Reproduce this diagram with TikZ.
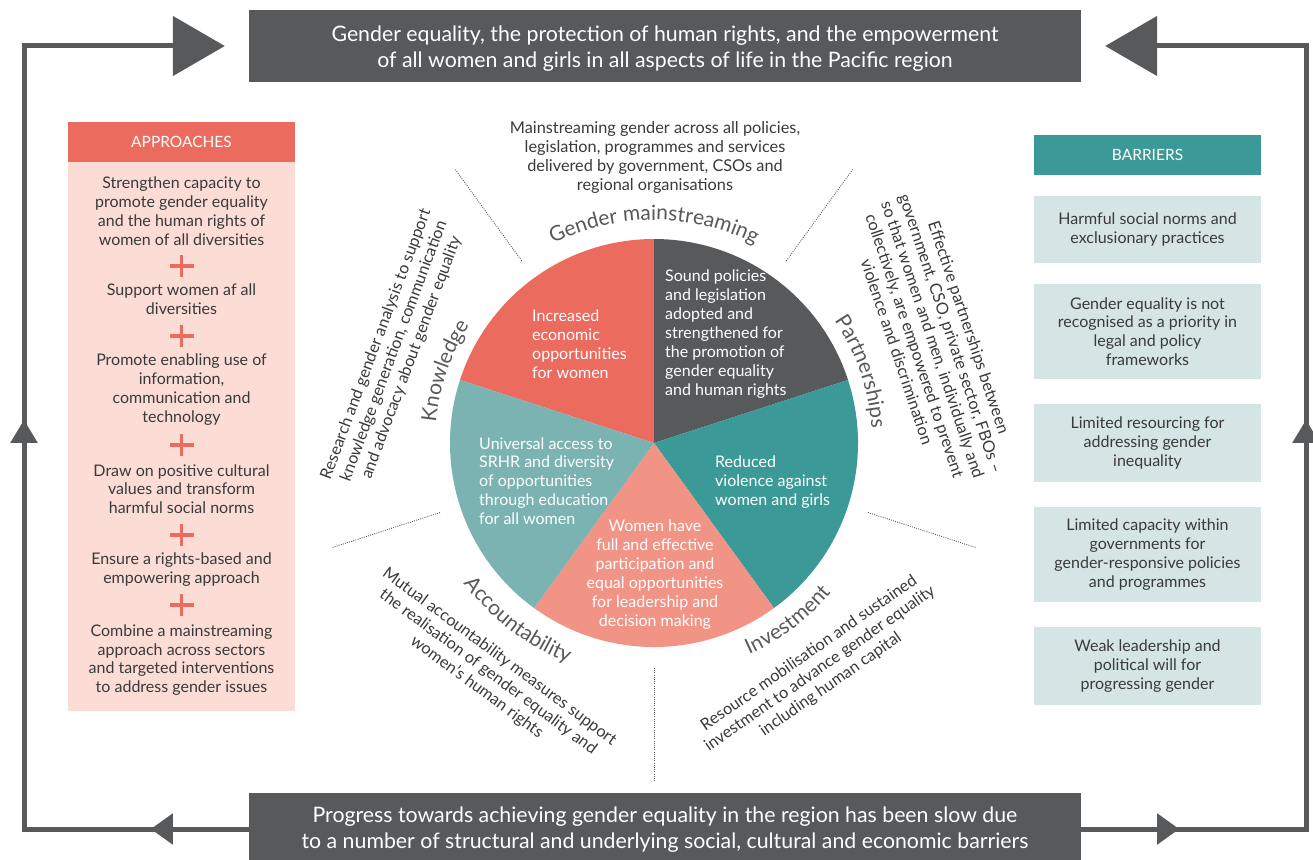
\documentclass[tikz,border=0pt]{standalone}
\usepackage{fontspec}
\setmainfont{Lato}
\usetikzlibrary{calc,decorations.text,decorations.markings,arrows.meta}
\definecolor{dgray}{HTML}{58595B}
\definecolor{cred}{HTML}{EC6B5F}
\definecolor{cpink}{HTML}{FBDDD5}
\definecolor{csalmon}{HTML}{F19486}
\definecolor{cteal}{HTML}{3B9A97}
\definecolor{clteal}{HTML}{7BB2B2}
\definecolor{cbar}{HTML}{D5E4E4}
\definecolor{ctxt}{HTML}{3A3A3A}
\newcommand\lblfont{\fontsize{21}{21}\selectfont}
\tikzset{
  bigbox/.style={fill=dgray, inner sep=0pt, minimum width=832pt, minimum height=72pt},
  bigtext/.style={text=white, font=\fontsize{21.3}{26.5}\selectfont, align=center, inner sep=0pt},
  head/.style={text=white, font=\fontsize{15.5}{18}\selectfont, inner sep=0pt, minimum width=227pt, minimum height=40pt},
  body/.style={text=ctxt, font=\fontsize{16}{18.8}\selectfont, align=center, inner sep=0pt},
  barbox/.style={fill=cbar, body, minimum width=227pt},
  pietext/.style={text=white, font=\fontsize{16}{18.9}\selectfont, inner sep=0pt},
  desc/.style={text=ctxt, font=\fontsize{16.3}{19}\selectfont, align=center, inner sep=0pt},
  plus/.style={draw=cred, line width=3.5pt},
  dots/.style={draw=dgray, line width=0.9pt, dash pattern=on 0.9pt off 1.3pt},
  loopline/.style={draw=dgray, line width=5pt},
  lbl/.style={decorate, decoration={text along path, text={|\lblfont|#1}, text align=center, text color=dgray}}
}
\begin{document}
\begin{tikzpicture}[x=1pt,y=-1pt]
\useasboundingbox (0,0) rectangle (1313,859);
\fill[white] (0,0) rectangle (1313,859);

% top and bottom boxes
\node[bigbox] (top) at (665,46) {};
\node[bigtext] (toptext) at (665,48.5) {Gender equality, the protection of human rights, and the empowerment\\of all women and girls in all aspects of life in the Pacific region};
\node[bigbox] (bot) at (665,829) {};
\node[bigtext] (bottext) at (665,829.5) {Progress towards achieving gender equality in the region has been slow due\\to a number of structural and underlying social, cultural and economic barriers};

% loop connectors
\draw[loopline, -{Triangle[length=52pt,width=59pt]}, shorten >=24pt,
  postaction={decorate}, decoration={markings,
    mark=at position 98pt with {\arrow{Triangle[length=22pt,width=30pt]}},
    mark=at position 634pt with {\arrow{Triangle[length=23pt,width=26pt]}}}]
  (bot.west) -- (24,829) -- (24,46) -- (top.west);
\draw[loopline, -{Triangle[length=52pt,width=59pt]}, shorten >=24pt,
  postaction={decorate}, decoration={markings,
    mark=at position 98pt with {\arrow{Triangle[length=22pt,width=30pt]}},
    mark=at position 634pt with {\arrow{Triangle[length=23pt,width=26pt]}}}]
  (bot.east) -- (1306,829) -- (1306,46) -- (top.east);

% approaches
\node[fill=cpink, minimum width=227pt, minimum height=550pt, inner sep=0pt] (appbody) at (181.5,436) {};
\node[head, fill=cred] (apphead) at (181.5,142) {APPROACHES};
\node[body] (a1) at (181.5,211) {Strengthen capacity to\\promote gender equality\\and the human rights of\\women of all diversities};
\node[body] (a2) at (181.5,299.5) {Support women af all\\diversities};
\node[body] (a3) at (181.5,389.5) {Promote enabling use of\\information,\\communication and\\technology};
\node[body] (a4) at (181.5,489) {Draw on positive cultural\\values and transform\\harmful social norms};
\node[body] (a5) at (181.5,569.5) {Ensure a rights-based and\\empowering approach};
\node[body] (a6) at (181.5,660) {Combine a mainstreaming\\approach across sectors\\and targeted interventions\\to address gender issues};
\foreach \yy in {266,336,445,535,605} {
  \draw[plus] (169.5,\yy) -- (193.5,\yy) (181.5,\yy-11) -- (181.5,\yy+11);
}

% barriers
\node[head, fill=cteal] (barhead) at (1147.5,155) {BARRIERS};
\node[barbox, minimum height=67pt] (b1) at (1147.5,229.5) {Harmful social norms and\\exclusionary practices};
\node[barbox, minimum height=95pt] (b2) at (1147.5,331.5) {Gender equality is not\\recognised as a priority in\\legal and policy\\frameworks};
\node[barbox, minimum height=78pt] (b3) at (1147.5,443) {Limited resourcing for\\addressing gender\\inequality};
\node[barbox, minimum height=95pt] (b4) at (1147.5,554.5) {Limited capacity within\\governments for\\gender-responsive policies\\and programmes};
\node[barbox, minimum height=78pt] (b5) at (1147.5,666) {Weak leadership and\\political will for\\progressing gender};

% pie
\coordinate (c) at (654,443);
\fill[cred] (c) -- ($(c)+(90:204pt)$) arc[start angle=90,end angle=162,radius=204pt] -- cycle;
\fill[dgray] (c) -- ($(c)+(18:204pt)$) arc[start angle=18,end angle=90,radius=204pt] -- cycle;
\fill[cteal] (c) -- ($(c)+(-54:204pt)$) arc[start angle=-54,end angle=18,radius=204pt] -- cycle;
\fill[csalmon] (c) -- ($(c)+(-126:204pt)$) arc[start angle=-126,end angle=-54,radius=204pt] -- cycle;
\fill[clteal] (c) -- ($(c)+(162:204pt)$) arc[start angle=162,end angle=234,radius=204pt] -- cycle;

\node[pietext, align=left, anchor=west] (p1) at (532,344) {Increased\\economic\\opportunities\\for women};
\node[pietext, align=left, anchor=west] (p2) at (665,334) {Sound policies\\and legislation\\adopted and\\strengthened for\\the promotion of\\gender equality\\and human rights};
\node[pietext, align=left, anchor=west] (p3) at (715,482) {Reduced\\violence against\\women and girls};
\node[pietext, align=left, anchor=west] (p4) at (479,481) {Universal access to\\SRHR and diversity\\of opportunities\\through education\\for all women};
\node[pietext, align=center] (p5) at (655,574.5) {Women have\\full and effective\\participation and\\equal opportunities\\for leadership and\\decision making};

% curved labels
\path[lbl=Gender mainstreaming] ($(c)+(125:223pt)$) arc[start angle=125,end angle=55,radius=223pt];
\path[lbl=Knowledge] ($(c)+(182:219pt)$) arc[start angle=182,end angle=140,radius=219pt];
\path[lbl=Partnerships] ($(c)+(40:218pt)$) arc[start angle=40,end angle=-2,radius=218pt];
\path[lbl=Investment] ($(c)+(-75:232pt)$) arc[start angle=-75,end angle=-31,radius=232pt];
\path[lbl=Accountability] ($(c)+(-150:236pt)$) arc[start angle=-150,end angle=-105,radius=236pt];

% dotted separators
\foreach \ang in {126,54,-18,-90,198} {
  \draw[dots] ($(c)+(\ang:225pt)$) -- ($(c)+(\ang:338pt)$);
}

% descriptions
\node[desc] (mdesc) at (655,157) {Mainstreaming gender across all policies,\\legislation, programmes and services\\delivered by government, CSOs and\\regional organisations};
\node[desc, rotate=69.5] (kdesc) at (394,351) {Research and gender analysis to support\\knowledge generation, communication\\and advocacy about gender equality};
\node[desc, rotate=-71.4] (pdesc) at (933,339.5) {Effective partnerships between\\government, CSO, private sector, FBOs –\\so that women and men, individually and\\collectively, are empowered to prevent\\violence and discrimination};
\node[desc, rotate=-36.5] (adesc) at (488,672) {Mutual accountability measures support\\the realisation of gender equality and\\women’s human rights};
\node[desc, rotate=34.9] (idesc) at (820,669) {Resource mobilisation and sustained\\investment to advance gender equality\\including human capital};
\end{tikzpicture}
\end{document}
